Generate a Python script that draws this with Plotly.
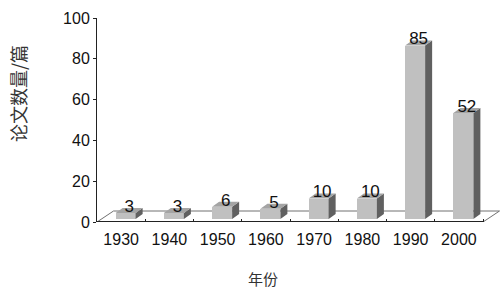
import plotly.graph_objects as go

categories = ["1930", "1940", "1950", "1960", "1970", "1980", "1990", "2000"]
values = [3, 3, 6, 5, 10, 10, 85, 52]
y_ticks = [0, 20, 40, 60, 80, 100]

W, H = 503, 289
ML, MR, MT, MB = 97, 2, 18, 67
pw = W - ML - MR
ph = H - MT - MB
cat_px = 48.25
xmin = -0.5
xmax = xmin + pw / cat_px
ypx = ph / 100.0  # px per unit

def px2x(p):
    return p / cat_px

def px2y(p):
    return p / ypx

bw = px2x(20)      # bar front width
sx = px2x(4.5)     # bar front shift right
sy = px2y(3)       # bar front shift up
bx = px2x(7)       # bar depth x
by = px2y(5)       # bar depth y
fdx = px2x(16.5)   # floor depth x
fdy = px2y(11)     # floor depth y

n = len(categories)
xs = list(range(n))

fig = go.Figure()

# front faces
fig.add_trace(go.Bar(
    x=xs, y=values, base=[sy] * n, width=bw, offset=-bw / 2 + sx,
    marker=dict(color="#c0c0c0", line=dict(width=0)),
    hoverinfo="skip", showlegend=False,
))

# side and top faces
side_x, side_y, top_x, top_y = [], [], [], []
for i, v in zip(xs, values):
    x1 = i + bw / 2 + sx
    x0 = i - bw / 2 + sx
    side_x += [x1, x1 + bx, x1 + bx, x1, x1, None]
    side_y += [sy, sy + by, v + sy + by, v + sy, sy, None]
    top_x += [x0, x0 + bx, x1 + bx, x1, x0, None]
    top_y += [v + sy, v + sy + by, v + sy + by, v + sy, v + sy, None]

fig.add_trace(go.Scatter(x=side_x, y=side_y, mode="lines", fill="toself",
                         fillcolor="#606060", line=dict(width=0, color="#606060"),
                         hoverinfo="skip", showlegend=False))
fig.add_trace(go.Scatter(x=top_x, y=top_y, mode="lines", fill="toself",
                         fillcolor="#a4a4a4", line=dict(width=0, color="#a4a4a4"),
                         hoverinfo="skip", showlegend=False))

# data labels
fig.add_trace(go.Scatter(
    x=[i + sx + px2x(3.5) for i in xs],
    y=[v + sy + px2y(5.5) for v in values],
    mode="text", text=[str(v) for v in values], textposition="middle center",
    textfont=dict(family="Arial, Liberation Sans, sans-serif", size=17, color="#111"),
    hoverinfo="skip", showlegend=False, cliponaxis=False,
))

# floor
floor_path = (f"M {xmin},0 L {xmin + fdx},{fdy} L {n - 0.5 + fdx},{fdy} "
              f"L {n - 0.5},0")
fig.add_shape(type="path", path=floor_path, xref="x", yref="y",
              line=dict(color="#707070", width=1), layer="below")
# front axis line
fig.add_shape(type="line", x0=xmin, x1=n - 0.5, y0=0, y1=0, xref="x", yref="y",
              line=dict(color="#222", width=2), layer="above")

fig.update_layout(
    width=W, height=H,
    margin=dict(l=ML, r=MR, t=MT, b=MB, autoexpand=False),
    paper_bgcolor="white", plot_bgcolor="white",
    bargap=0,
    xaxis=dict(
        range=[xmin, xmax], tickvals=xs, ticktext=categories, automargin=False,
        showgrid=False, zeroline=False, showline=False, ticks="",
        tickfont=dict(family="Arial, Liberation Sans, sans-serif", size=16, color="#111"),
        minor=dict(tickvals=[i + 0.5 for i in xs], ticks="inside", ticklen=3,
                   tickcolor="#222", tickwidth=1, showgrid=False),
        ticklabelstandoff=6,
    ),
    yaxis=dict(
        range=[0, 100], tickvals=y_ticks, automargin=False,
        showgrid=False, zeroline=False, showline=True, linecolor="#222", linewidth=1,
        ticks="outside", ticklen=3, tickcolor="#222",
        tickfont=dict(family="Arial, Liberation Sans, sans-serif", size=16, color="#111"),
        ticklabelstandoff=0,
    ),
    annotations=[
        dict(text="论文数量/篇", xref="paper", yref="paper",
             x=(18 - ML) / pw, y=1 - (94 - MT) / ph, showarrow=False,
             textangle=-90, xanchor="center", yanchor="middle",
             font=dict(family="Noto Sans CJK SC", size=18, color="#333")),
        dict(text="年份", xref="paper", yref="paper",
             x=(263 - ML) / pw, y=1 - (278 - MT) / ph, showarrow=False,
             xanchor="center", yanchor="middle",
             font=dict(family="Noto Sans CJK SC", size=15, color="#333")),
    ],
)

fig.write_html("out.html", config={"displayModeBar": False},
               post_script="document.body.style.margin='0';document.body.style.overflow='hidden';")
